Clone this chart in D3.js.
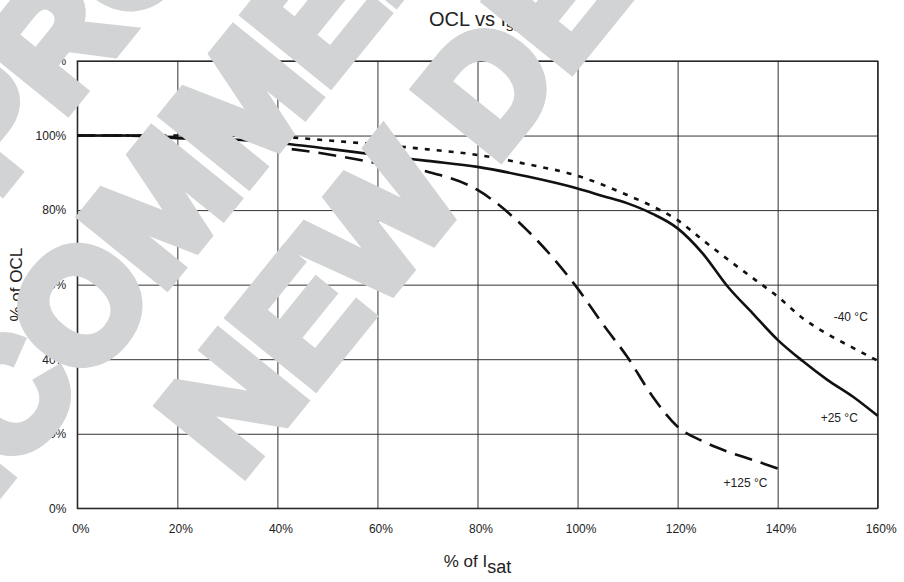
<!DOCTYPE html>
<html>
<head>
<meta charset="utf-8">
<script src="https://cdn.jsdelivr.net/npm/d3@7"></script>
<style>
  body { margin: 0; background: #fff; }
  text { font-family: "Liberation Sans", Arial, sans-serif; }
</style>
</head>
<body>
<script>
// OCL vs Isat
var isatPct = [0, 10, 20, 30, 40, 50, 60, 70, 80, 90, 100, 105, 110, 115, 120, 125, 130, 135, 140, 145, 150, 155, 160];
var minus40 = [100, 100, 100, 100, 99.7, 98.7, 97.6, 96.3, 94.8, 92.3, 89.2, 86.8, 84, 81, 77.3, 72, 66.8, 61.8, 56.8, 51, 46.7, 43.1, 39.6];
var plus25 = [100, 100, 99.3, 99, 98, 96.5, 94.8, 93.2, 91.6, 89, 85.8, 83.8, 81.8, 79, 75.1, 68.4, 59.5, 52.3, 45.2, 39.5, 34.4, 30, 24.8];
var plus125 = [100, 100, 99.5, 100, 97, 95, 92.6, 90.3, 85.4, 74.5, 59, 49.5, 40.5, 30, 21.9, 18, 15.2, 13, 10.7, null, null, null, null];
var seriesNames = ["-40 °C", "+25 °C", "+125 °C"];
var xTicks = [0, 20, 40, 60, 80, 100, 120, 140, 160];
var yTicks = [0, 20, 40, 60, 80, 100, 120];
var watermarkLines = ["PRODUCT NOT", "RECOMMENDED FOR", "NEW DESIGNS"];

var width = 904,
    height = 582;
var margin = {top: 61, right: 26.3, bottom: 73.7, left: 77.3};
var plotW = width - margin.left - margin.right,
    plotH = height - margin.top - margin.bottom;

var svg = d3.select("body")
  .append("svg")
  .attr("width", width)
  .attr("height", height);

var xScale = d3.scaleLinear().domain([0, 160]).range([margin.left, margin.left + plotW]);
var yScale = d3.scaleLinear().domain([0, 120]).range([margin.top + plotH, margin.top]);

var pct = function(d) { return d + "%"; };

// x axis + vertical grid
var xAxis = d3.axisBottom(xScale).tickValues(xTicks).tickFormat(pct)
  .tickSizeInner(-plotH).tickSizeOuter(0).tickPadding(16);
var gx = svg.append("g")
  .attr("transform", "translate(0," + (margin.top + plotH) + ")")
  .call(xAxis);
gx.select(".domain").remove();
gx.selectAll("line").attr("stroke", "#333").attr("stroke-width", 1);
gx.selectAll("text").attr("dx", 3).attr("fill", "#222").style("font-size", "12px");

// y axis + horizontal grid
var yAxis = d3.axisLeft(yScale).tickValues(yTicks).tickFormat(pct)
  .tickSizeInner(-plotW).tickSizeOuter(0).tickPadding(11);
var gy = svg.append("g")
  .attr("transform", "translate(" + margin.left + ",0)")
  .call(yAxis);
gy.select(".domain").remove();
gy.selectAll("line").attr("stroke", "#333").attr("stroke-width", 1);
gy.selectAll("text").attr("fill", "#222").style("font-size", "12px");

// frame
svg.append("rect")
  .attr("x", margin.left).attr("y", margin.top)
  .attr("width", plotW).attr("height", plotH)
  .attr("fill", "none").attr("stroke", "#222").attr("stroke-width", 1.2);

// curves
var series = [
  {name: seriesNames[0], values: minus40, dash: "5,7"},
  {name: seriesNames[1], values: plus25, dash: null},
  {name: seriesNames[2], values: plus125, dash: "18,9"}
];

var line = d3.line()
  .defined(function(d) { return d[1] != null; })
  .x(function(d) { return xScale(d[0]); })
  .y(function(d) { return yScale(d[1]); })
  .curve(d3.curveMonotoneX);

svg.selectAll("path.curve")
  .data(series)
  .enter()
  .append("path")
  .attr("class", "curve")
  .attr("d", function(s) {
    return line(isatPct.map(function(x, i) { return [x, s.values[i]]; }));
  })
  .attr("fill", "none")
  .attr("stroke", "#111")
  .attr("stroke-width", 2.6)
  .attr("stroke-dasharray", function(s) { return s.dash; });

// curve labels
var labelAt = [[151.2, 50.2], [148.6, 23.2], [129.2, 5.8]];
svg.selectAll("text.serieslabel")
  .data(series)
  .enter()
  .append("text")
  .attr("class", "serieslabel")
  .attr("x", function(s, i) { return xScale(labelAt[i][0]); })
  .attr("y", function(s, i) { return yScale(labelAt[i][1]); })
  .attr("fill", "#222")
  .style("font-size", "12px")
  .text(function(s) { return s.name; });

// title
var title = svg.append("text")
  .attr("x", margin.left + plotW / 2)
  .attr("y", 26)
  .attr("text-anchor", "middle")
  .attr("fill", "#222")
  .style("font-size", "20px")
  .text("OCL vs I");
title.append("tspan").attr("dy", 5).style("font-size", "15px").text("sat");

// x label
var xl = svg.append("text")
  .attr("x", margin.left + plotW / 2)
  .attr("y", 567)
  .attr("text-anchor", "middle")
  .attr("fill", "#222")
  .style("font-size", "17px")
  .text("% of I");
xl.append("tspan").attr("dy", 6).style("font-size", "18px").text("sat");

// y label
svg.append("text")
  .attr("transform", "translate(22," + (margin.top + plotH / 2) + ") rotate(-90)")
  .attr("text-anchor", "middle")
  .attr("fill", "#222")
  .style("font-size", "17px")
  .text("% of OCL");

// watermark over everything
var lineStarts = [15, -405, -52];
var lineBase = [-310, -123, 56];
var wm = svg.append("g")
  .attr("transform", "translate(227,405) rotate(-51)");
wm.selectAll("text")
  .data(watermarkLines)
  .enter()
  .append("text")
  .attr("x", function(d, i) { return lineStarts[i]; })
  .attr("y", function(d, i) { return lineBase[i]; })
  .attr("fill", "#d1d3d4")
  .attr("stroke", "#d1d3d4")
  .attr("stroke-width", 12)
  .attr("stroke-linejoin", "miter")
  .style("font-size", "156px")
  .style("font-weight", "bold")
  .text(function(d) { return d; });
</script>
</body>
</html>
